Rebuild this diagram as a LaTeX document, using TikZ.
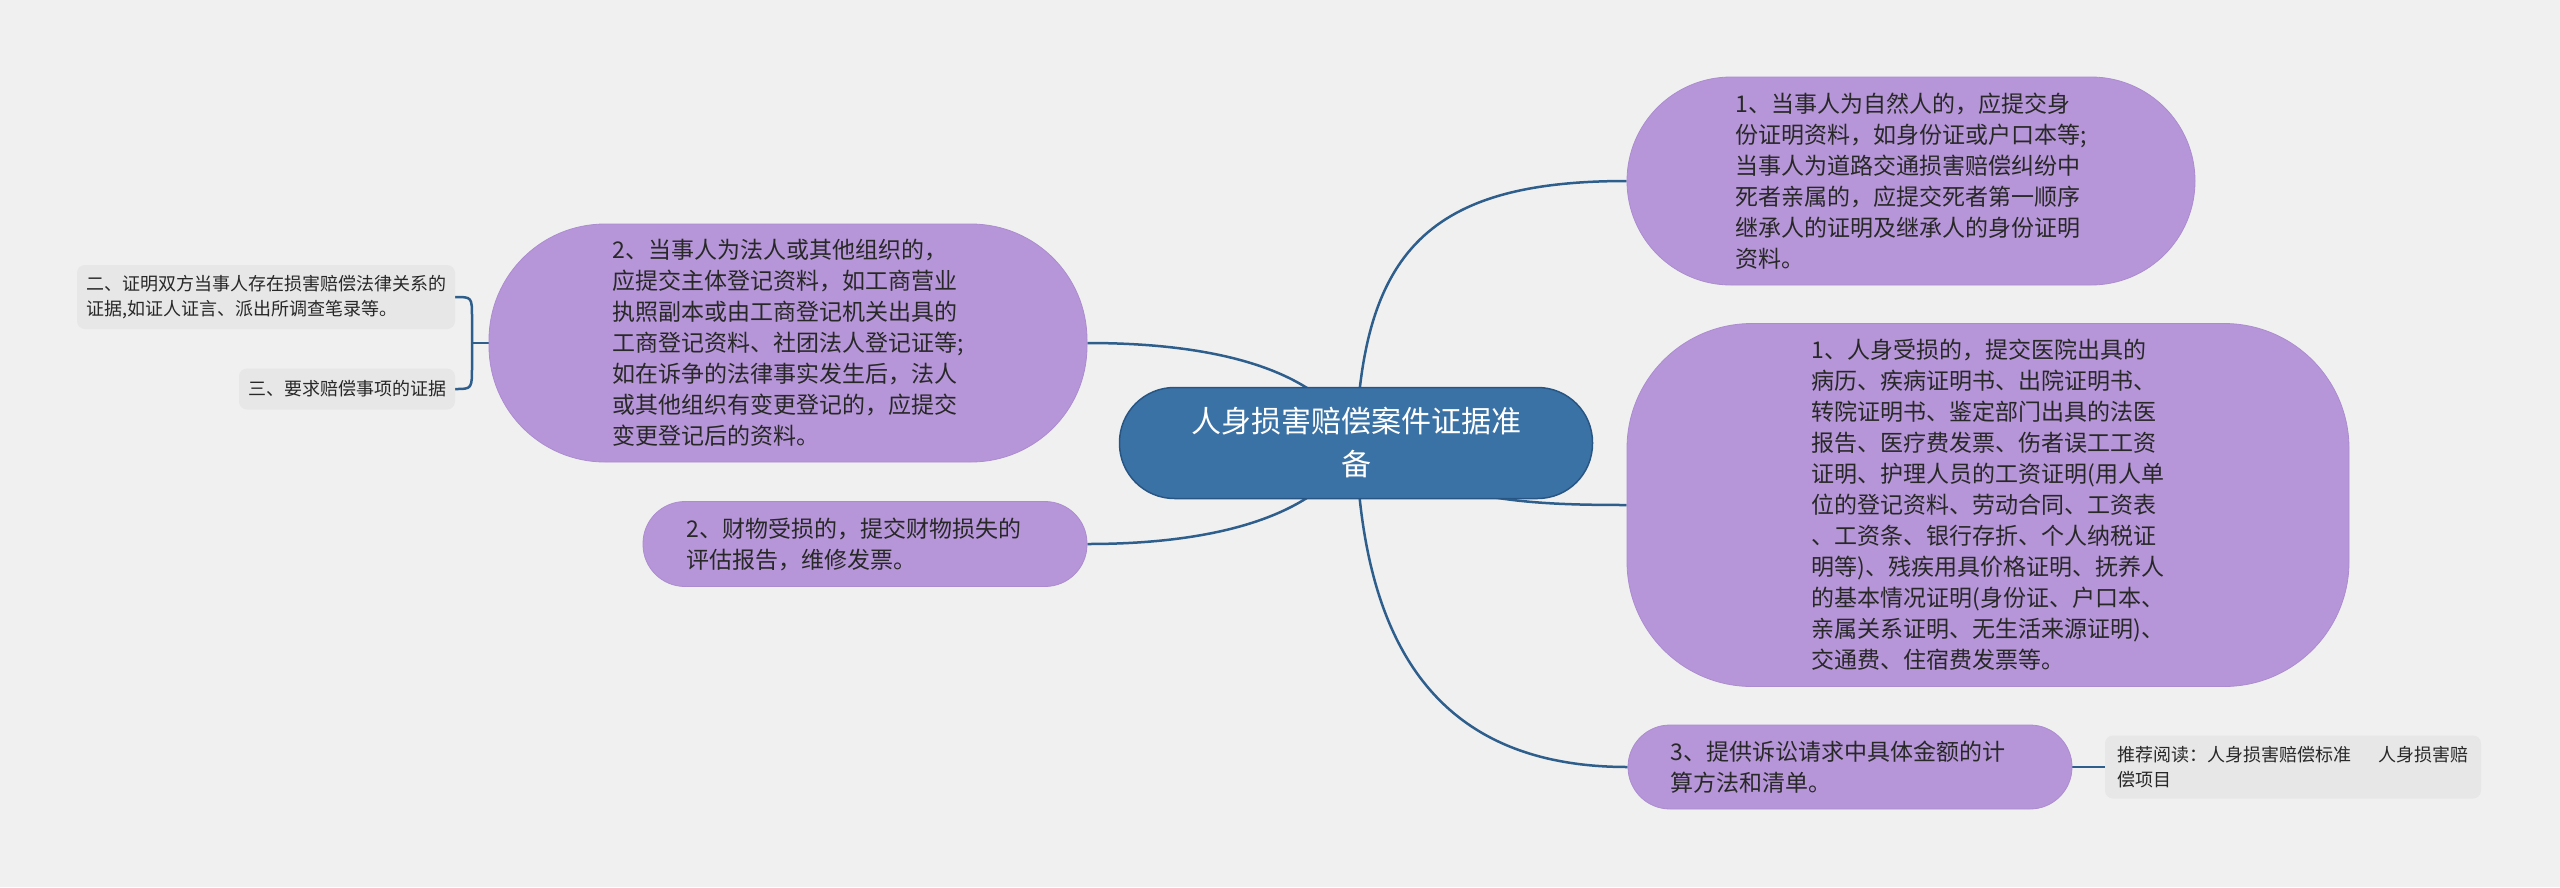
\documentclass[tikz,border=0pt]{standalone}
\usepackage{fontspec}
\setmainfont{Noto Sans CJK SC}
\usetikzlibrary{backgrounds}
\definecolor{bgc}{RGB}{240,240,240}
\definecolor{pfill}{RGB}{182,150,216}
\definecolor{pdraw}{RGB}{172,140,208}
\definecolor{rfill}{RGB}{59,114,166}
\definecolor{rdraw}{RGB}{40,86,132}
\definecolor{gfill}{RGB}{231,231,231}
\definecolor{conn}{RGB}{46,94,140}
\definecolor{txt}{RGB}{40,40,40}
\tikzset{
  purp/.style={draw=pdraw, line width=0.8pt, fill=pfill, text=txt, inner sep=0pt,
    font=\fontsize{23}{31}\selectfont, align=left},
  rootbox/.style={draw=rdraw, line width=1.5pt, fill=rfill, text=white, inner sep=0pt,
    font=\fontsize{30}{43}\selectfont, align=center, rounded corners=55pt,
    minimum width=473pt, minimum height=111pt},
  greybox/.style={fill=gfill, text=txt, inner sep=0pt, rounded corners=8pt,
    font=\fontsize{18}{25}\selectfont, align=left},
  link/.style={draw=conn, line width=2.5pt}
}
\begin{document}
\begin{tikzpicture}[x=1pt,y=-1pt]
\useasboundingbox (0,0) rectangle (2560,887);
\begin{scope}[on background layer]
\fill[bgc] (0,0) rectangle (2560,887);
\end{scope}
% root
\node[rootbox] (root) at (1356,443) {人身损害赔偿案件证据准\\备};
% right
\node[purp, rounded corners=104pt, minimum width=568pt, minimum height=208pt] (r1) at (1911,181)
 {1、当事人为自然人的，应提交身\\份证明资料，如身份证或户口本等;\\当事人为道路交通损害赔偿纠纷中\\死者亲属的，应提交死者第一顺序\\继承人的证明及继承人的身份证明\\资料。};
\node[purp, rounded corners=125pt, minimum width=722pt, minimum height=363pt] (r2) at (1988,505)
 {1、人身受损的，提交医院出具的\\病历、疾病证明书、出院证明书、\\转院证明书、鉴定部门出具的法医\\报告、医疗费发票、伤者误工工资\\证明、护理人员的工资证明(用人单\\位的登记资料、劳动合同、工资表\\、工资条、银行存折、个人纳税证\\明等)、残疾用具价格证明、抚养人\\的基本情况证明(身份证、户口本、\\亲属关系证明、无生活来源证明)、\\交通费、住宿费发票等。};
\node[purp, rounded corners=42pt, minimum width=444pt, minimum height=84pt] (r3) at (1850,767)
 {3、提供诉讼请求中具体金额的计\hspace*{24pt}\\算方法和清单。};
\node[greybox, minimum width=376pt, minimum height=63pt] (note) at (2293,767)
 {推荐阅读：人身损害赔偿标准\hspace{1.5em}人身损害赔\\偿项目};
% left
\node[purp, rounded corners=116pt, minimum width=598pt, minimum height=238pt] (l1) at (788,343)
 {2、当事人为法人或其他组织的，\\应提交主体登记资料，如工商营业\\执照副本或由工商登记机关出具的\\工商登记资料、社团法人登记证等;\\如在诉争的法律事实发生后，法人\\或其他组织有变更登记的，应提交\\变更登记后的资料。};
\node[purp, rounded corners=42pt, minimum width=444pt, minimum height=85pt] (l2) at (865,544)
 {2、财物受损的，提交财物损失的\hspace*{22pt}\\评估报告，维修发票。};
\node[greybox, minimum width=378pt, minimum height=64pt] (g1) at (266,297)
 {二、证明双方当事人存在损害赔偿法律关系的\\证据,如证人证言、派出所调查笔录等。};
\node[greybox, minimum width=216pt, minimum height=41pt] (g2) at (347,389)
 {三、要求赔偿事项的证据};
\coordinate (br) at (472,343);
% connectors
\begin{scope}[on background layer]
\draw[link] (root.center) .. controls (1362,250) and (1430,181) .. (r1.west);
\draw[link] (root.center) .. controls (1440,500) and (1520,505) .. (r2.west);
\draw[link] (root.center) .. controls (1362,636) and (1430,767) .. (r3.west);
\draw[link] (r3.east) -- (note.west);
\draw[link] (root.center) .. controls (1330,380) and (1240,343) .. (l1.east);
\draw[link] (root.center) .. controls (1330,505) and (1240,544) .. (l2.east);
\draw[link] (l1.west) -- (br);
\draw[link] (g1.east) .. controls (472,297) .. (472,318) -- (472,366) .. controls (472,389) .. (g2.east);
\end{scope}
\end{tikzpicture}
\end{document}
